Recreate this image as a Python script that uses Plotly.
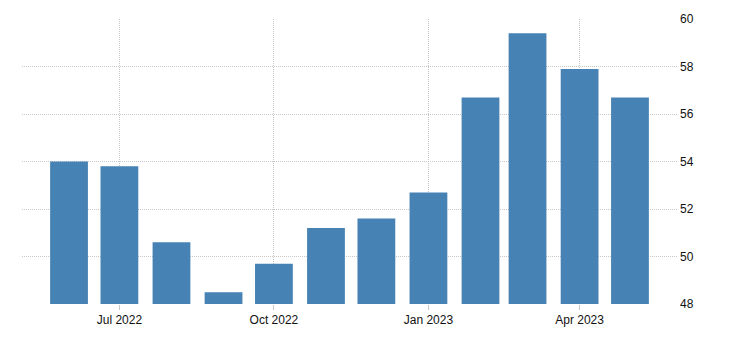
import plotly.graph_objects as go

months = ["2022-06-01", "2022-07-01", "2022-08-01", "2022-09-01", "2022-10-01", "2022-11-01",
          "2022-12-01", "2023-01-01", "2023-02-01", "2023-03-01", "2023-04-01", "2023-05-01"]
values = [54.0, 53.8, 50.6, 48.5, 49.7, 51.2, 51.6, 52.7, 56.7, 59.4, 57.9, 56.7]
tick_dates = ["2022-07-01", "2022-10-01", "2023-01-01", "2023-04-01"]
tick_labels = ["Jul 2022", "Oct 2022", "Jan 2023", "Apr 2023"]
y_ticks = [48, 50, 52, 54, 56, 58, 60]

day_ms = 86400000

fig = go.Figure(go.Bar(
    x=months, y=values,
    width=[22.5 * day_ms] * len(months),
    marker=dict(color="#4682B4", line=dict(width=0)),
    hoverinfo="x+y",
))

fig.update_layout(
    width=730, height=340,
    margin=dict(l=22, r=53, t=19, b=36),
    paper_bgcolor="white", plot_bgcolor="white",
    showlegend=False,
    font=dict(family="Liberation Sans, Arial, sans-serif", size=12, color="#111111"),
    xaxis=dict(
        type="date",
        range=["2022-05-04", "2023-05-29"],
        tickvals=tick_dates, ticktext=tick_labels,
        showgrid=True, gridcolor="#c8c8c8", griddash="1px,1px", gridwidth=1,
        ticks="outside", ticklen=5, tickcolor="#c8c8c8",
        showline=False, zeroline=False,
    ),
    yaxis=dict(
        side="right",
        range=[48, 60],
        tickvals=y_ticks,
        showgrid=True, gridcolor="#c8c8c8", griddash="1px,1px", gridwidth=1,
        ticks="", showline=False, zeroline=False,
        ticklabelstandoff=2,
    ),
)

fig.write_html("out.html")
